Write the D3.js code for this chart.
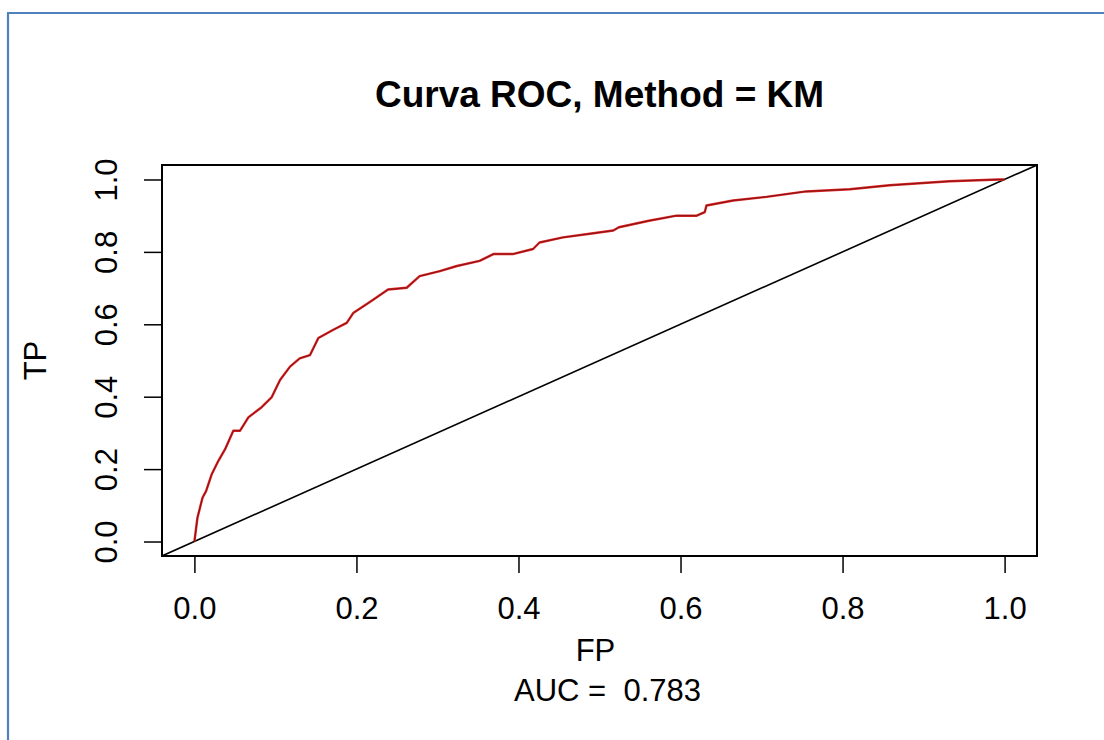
<!DOCTYPE html>
<html>
<head>
<meta charset="utf-8">
<script src="https://cdn.jsdelivr.net/npm/d3@7"></script>
<style>
  html, body { margin: 0; padding: 0; background: #fff; }
  svg text { font-family: "Liberation Sans", Arial, Helvetica, sans-serif; fill: #000; }
</style>
</head>
<body>
<svg id="chart" width="1104" height="740"></svg>
<script>
// ROC curve points (false positive rate, true positive rate)
const fpRate = [0, 0.0037, 0.010, 0.0144, 0.0214, 0.0296, 0.0379, 0.048, 0.0564, 0.0666,
  0.083, 0.0955, 0.1057, 0.118, 0.130, 0.1427, 0.153, 0.1715, 0.188, 0.196,
  0.217, 0.239, 0.262, 0.278, 0.303, 0.324, 0.352, 0.369, 0.393, 0.418,
  0.426, 0.455, 0.488, 0.517, 0.524, 0.561, 0.595, 0.620, 0.630, 0.632,
  0.665, 0.706, 0.755, 0.809, 0.858, 0.932, 0.993, 1];
const tpRate = [0, 0.065, 0.121, 0.139, 0.186, 0.223, 0.255, 0.306, 0.306, 0.343,
  0.371, 0.399, 0.446, 0.483, 0.506, 0.515, 0.562, 0.585, 0.604, 0.631,
  0.662, 0.696, 0.701, 0.733, 0.747, 0.761, 0.775, 0.794, 0.794, 0.808,
  0.826, 0.840, 0.850, 0.859, 0.868, 0.886, 0.900, 0.900, 0.910, 0.928,
  0.942, 0.952, 0.967, 0.973, 0.984, 0.995, 1.0, 1];
const xTicks = [0, 0.2, 0.4, 0.6, 0.8, 1.0];
const yTicks = [0, 0.2, 0.4, 0.6, 0.8, 1.0];
const titleText = "Curva ROC, Method = KM";
const xLabel = "FP";
const yLabel = "TP";
const aucValue = 0.783;

const svg = d3.select("#chart");

// page frame (left and top rules)
svg.append("line").attr("x1", 8).attr("y1", 13).attr("x2", 8).attr("y2", 740)
  .attr("stroke", "#4f81bd").attr("stroke-width", 2.2);
svg.append("line").attr("x1", 7).attr("y1", 13).attr("x2", 1104).attr("y2", 13)
  .attr("stroke", "#4f81bd").attr("stroke-width", 2.2);

const plot = { left: 162, right: 1037, top: 165, bottom: 556 };

// R-style 4% axis extension
const x = d3.scaleLinear().domain([-0.04, 1.04]).range([plot.left, plot.right]);
const y = d3.scaleLinear().domain([-0.04, 1.04]).range([plot.bottom, plot.top]);

svg.append("defs").append("clipPath").attr("id", "plotClip")
  .append("rect").attr("x", plot.left).attr("y", plot.top)
  .attr("width", plot.right - plot.left).attr("height", plot.bottom - plot.top);

const fs = 31;

// x axis
const xAxis = svg.append("g").attr("transform", `translate(0,${plot.bottom})`)
  .call(d3.axisBottom(x).tickValues(xTicks).tickFormat(d3.format(".1f")).tickSize(17).tickPadding(24));
xAxis.select(".domain").remove();
xAxis.selectAll(".tick line").attr("stroke", "#000").attr("stroke-width", 1.5);
xAxis.selectAll(".tick text").attr("font-size", fs).attr("fill", "#000");

// y axis (labels parallel to the axis)
const yAxis = svg.append("g").attr("transform", `translate(${plot.left},0)`)
  .call(d3.axisLeft(y).tickValues(yTicks).tickFormat(d3.format(".1f")).tickSize(18).tickPadding(0));
yAxis.select(".domain").remove();
yAxis.selectAll(".tick line").attr("stroke", "#000").attr("stroke-width", 1.5);
yAxis.selectAll(".tick text").remove();
yAxis.selectAll(".tick").append("text")
  .attr("transform", "translate(-45,0) rotate(-90)")
  .attr("text-anchor", "middle")
  .attr("font-size", fs)
  .text(d => d3.format(".1f")(d));

// chance diagonal, clipped to the plot region
svg.append("line")
  .attr("clip-path", "url(#plotClip)")
  .attr("x1", x(-0.04)).attr("y1", y(-0.04))
  .attr("x2", x(1.04)).attr("y2", y(1.04))
  .attr("stroke", "#000").attr("stroke-width", 1.6);

// ROC curve
const pts = fpRate.map((f, i) => [f, tpRate[i]]);
const line = d3.line().x(d => x(d[0])).y(d => y(d[1]));
svg.append("path").datum(pts).attr("d", line)
  .attr("fill", "none").attr("stroke", "#dd2222").attr("stroke-width", 2.4)
  .attr("stroke-linejoin", "round");
svg.append("path").datum(pts).attr("d", line)
  .attr("fill", "none").attr("stroke", "#7a1212").attr("stroke-width", 0.9)
  .attr("stroke-linejoin", "round");

// plot box
svg.append("rect")
  .attr("x", plot.left).attr("y", plot.top)
  .attr("width", plot.right - plot.left).attr("height", plot.bottom - plot.top)
  .attr("fill", "none").attr("stroke", "#000").attr("stroke-width", 2);

// titles
const cx = (plot.left + plot.right) / 2;
svg.append("text").attr("x", cx).attr("y", 107).attr("text-anchor", "middle")
  .attr("font-size", 37).attr("font-weight", "bold").text(titleText);
svg.append("text").attr("x", cx - 4).attr("y", 661).attr("text-anchor", "middle")
  .attr("font-size", fs).text(xLabel);
svg.append("text").attr("x", cx + 8).attr("y", 701).attr("text-anchor", "middle")
  .attr("font-size", fs).style("white-space", "pre")
  .text("AUC =  " + d3.format(".3f")(aucValue));
svg.append("text").attr("transform", `translate(46,${(plot.top + plot.bottom) / 2}) rotate(-90)`)
  .attr("text-anchor", "middle").attr("font-size", fs).text(yLabel);
</script>
</body>
</html>
